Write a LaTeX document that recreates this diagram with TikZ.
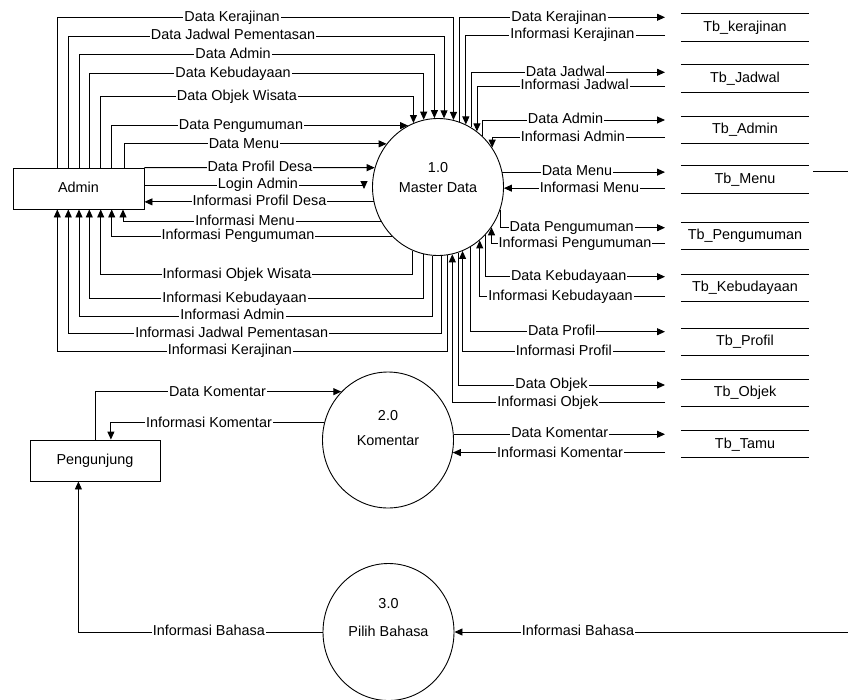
\documentclass[tikz,border=0pt]{standalone}
\usepackage{fontspec}
\setmainfont{Liberation Sans}
\usetikzlibrary{arrows.meta,shapes.geometric}
\begin{document}
\begin{tikzpicture}[x=1pt,y=-1pt,
  font=\fontsize{14.4}{17}\selectfont,
  wire/.style={draw=black,line width=0.9pt},
  flow/.style={wire,-{Triangle[length=8pt,width=7pt]}},
  lbl/.style={fill=white,inner xsep=1pt,inner ysep=0pt,text height=10.4pt,text depth=2.8pt},
  txt/.style={inner sep=0pt,text height=10.4pt,text depth=2.8pt},
  entity/.style={draw=black,line width=0.9pt,minimum width=131pt,minimum height=41pt,inner sep=0pt,text height=10.4pt,text depth=2.8pt},
  process/.style={ellipse,draw=black,line width=0.9pt,minimum width=131pt,minimum height=137pt,inner sep=0pt},
  store/.style={minimum width=128pt,minimum height=27pt,inner sep=0pt,text height=10.4pt,text depth=2.8pt},
]
\useasboundingbox (0,0) rectangle (848,699);

% external entities
\node[entity] (admin) at (78.5,188.5) {Admin};
\node[entity,minimum width=130pt] (peng) at (95,460.5) {Pengunjung};

% processes
\node[process] (p1) at (438,187) {};
\node[txt] (p1n) at (438,168.5) {1.0};
\node[txt] (p1t) at (438,188.9) {Master Data};
\node[process,minimum height=136pt] (p2) at (388,440) {};
\node[txt] (p2n) at (388,416.2) {2.0};
\node[txt] (p2t) at (388,441.2) {Komentar};
\node[process] (p3) at (388.5,632) {};
\node[txt] (p3n) at (388.5,604.5) {3.0};
\node[txt] (p3t) at (388.5,632.9) {Pilih Bahasa};

% data stores
\node[store] (tb1) at (745,27.5) {Tb\_kerajinan};
\node[store] (tb2) at (745,78.3) {Tb\_Jadwal};
\node[store] (tb3) at (745,130) {Tb\_Admin};
\node[store] (tb4) at (745,179.5) {Tb\_Menu};
\node[store] (tb5) at (745,235.7) {Tb\_Pengumuman};
\node[store] (tb6) at (745,287.7) {Tb\_Kebudayaan};
\node[store] (tb7) at (745,341.7) {Tb\_Profil};
\node[store] (tb8) at (745,392.7) {Tb\_Objek};
\node[store] (tb9) at (745,444.2) {Tb\_Tamu};
\foreach \s in {tb1,tb2,tb3,tb4,tb5,tb6,tb7,tb8,tb9}
  \draw[wire] (\s.north west) -- (\s.north east) (\s.south west) -- (\s.south east);

% loose ends of the flows
\coordinate (gx) at (665,0);
\coordinate (lg) at (364,185);
\coordinate (mo1) at (813,171.7);
\coordinate (mo2) at (848,171.7);
\coordinate (bin) at (848,632);

% Admin -> Master Data
\draw[flow] (admin.north -| 57.3,0) |- (p1.77.9 |- 0,17.3) -- (p1.77.9);
\draw[flow] (admin.north -| 68.3,0) |- (p1.85.6 |- 0,36) -- (p1.85.6);
\draw[flow] (admin.north -| 79,0) |- (p1.93.9 |- 0,54.3) -- (p1.93.9);
\draw[flow] (admin.north -| 89.3,0) |- (p1.102.9 |- 0,73.3) -- (p1.102.9);
\draw[flow] (admin.north -| 100.7,0) |- (p1.111.3 |- 0,96.7) -- (p1.111.3);
\draw[flow] (admin.north -| 111.7,0) |- (p1.116);
\draw[flow] (admin.north -| 124,0) |- (p1.140.2);
\draw[flow] (admin.north east) -- (p1.163.2);
\draw[wire] (admin.east |- lg) -- (lg);
\draw[flow] ([yshift=4pt]lg) -- ([yshift=-4pt]lg);

% Master Data -> Admin
\draw[flow] (p1.193.2) -- (admin.east |- p1.193.2);
\draw[flow] (p1.211.6) -| (admin.south -| 123,0);
\draw[flow] (p1.227) -| (admin.south -| 111.7,0);
\draw[flow] (p1.248.7) |- (100.7,274.3) -- (admin.south -| 100.7,0);
\draw[flow] (p1.258.4) |- (89.3,298.3) -- (admin.south -| 89.3,0);
\draw[flow] (p1.265.2) |- (79,316) -- (admin.south -| 79,0);
\draw[flow] (p1.273.1) |- (68.3,333.3) -- (admin.south -| 68.3,0);
\draw[flow] (p1.278.7) |- (57.3,351) -- (admin.south -| 57.3,0);

% Master Data <-> tables
\draw[flow] (p1.72.7) |- (gx |- 0,17.3);
\draw[flow] (gx |- 0,35) -| (p1.66.6);
\draw[flow] (p1.61.8) |- (gx |- 0,72.3);
\draw[flow] (gx |- 0,86) -| (p1.55);
\draw[flow] (p1.49.4) |- (gx |- 0,120);
\draw[flow] (gx |- 0,137.3) -| (p1.36.1);
\draw[flow] (p1.13.5) -- (gx |- p1.13.5);
\draw[flow] (gx |- p1.-1.7) -- (p1.-1.7);
\draw[flow] (p1.340.4) |- (gx |- 0,227.7);
\draw[flow] (gx |- 0,243.3) -| (p1.323.9);
\draw[flow] (p1.315.5) |- (gx |- 0,276.7);
\draw[flow] (gx |- 0,296.7) -| (p1.308.6);
\draw[flow] (p1.298.2) |- (gx |- 0,331.7);
\draw[flow] (gx |- 0,351.7) -| (p1.291.8);
\draw[flow] (p1.287.6) |- (gx |- 0,385);
\draw[flow] (gx |- 0,402.3) -| (p1.282.9);
\draw[wire] (mo1) -- (mo2);

% Komentar
\draw[flow] (peng.north -| 95,0) |- (p2.134.9);
\draw[flow] (p2.165.3) -| (peng.north -| 110.9,0);
\draw[flow] (p2.5.3) -- (gx |- p2.5.3);
\draw[flow] (gx |- p2.-11.7) -- (p2.-11.7);

% Pilih Bahasa
\draw[flow] (p3.west) -| (peng.south -| 78.4,0);
\draw[flow] (bin) -- (p3.east);

% flow labels
\node[lbl] (l1) at (232,17.3) {Data Kerajinan};
\node[lbl] (l2) at (233,36) {Data Jadwal Pementasan};
\node[lbl] (l3) at (233,54.3) {Data Admin};
\node[lbl] (l4) at (233,73.3) {Data Kebudayaan};
\node[lbl] (l5) at (237,96.7) {Data Objek Wisata};
\node[lbl] (l6) at (241,126) {Data Pengumuman};
\node[lbl] (l7) at (244,144.3) {Data Menu};
\node[lbl] (l8) at (260,168) {Data Profil Desa};
\node[lbl] (l9) at (258,185) {Login Admin};
\node[lbl] (l10) at (259.5,202) {Informasi Profil Desa};
\node[lbl] (l11) at (245,221.7) {Informasi Menu};
\node[lbl] (l12) at (238,236) {Informasi Pengumuman};
\node[lbl] (l13) at (237,274.3) {Informasi Objek Wisata};
\node[lbl] (l14) at (234.5,298.3) {Informasi Kebudayaan};
\node[lbl] (l15) at (232.5,316) {Informasi Admin};
\node[lbl] (l16) at (231.7,333.3) {Informasi Jadwal Pementasan};
\node[lbl] (l17) at (230,351) {Informasi Kerajinan};

\node[lbl] (r1) at (559,17.3) {Data Kerajinan};
\node[lbl] (r2) at (572.5,35) {Informasi Kerajinan};
\node[lbl] (r3) at (565.5,72.3) {Data Jadwal};
\node[lbl] (r4) at (574.7,86) {Informasi Jadwal};
\node[lbl] (r5) at (565.5,120) {Data Admin};
\node[lbl] (r6) at (572.8,137.3) {Informasi Admin};
\node[lbl] (r7) at (577,171.7) {Data Menu};
\node[lbl] (r8) at (589.5,189) {Informasi Menu};
\node[lbl] (r9) at (571.7,227.7) {Data Pengumuman};
\node[lbl] (r10) at (575,243.3) {Informasi Pengumuman};
\node[lbl] (r11) at (568.7,276.7) {Data Kebudayaan};
\node[lbl] (r12) at (560.5,296.7) {Informasi Kebudayaan};
\node[lbl] (r13) at (561.7,331.7) {Data Profil};
\node[lbl] (r14) at (563.8,351.7) {Informasi Profil};
\node[lbl] (r15) at (551.5,385) {Data Objek};
\node[lbl] (r16) at (547.8,402.3) {Informasi Objek};
\node[lbl] (r17) at (559.7,434) {Data Komentar};
\node[lbl] (r18) at (560,453.3) {Informasi Komentar};
\node[lbl] (r19) at (578,632) {Informasi Bahasa};

\node[lbl] (k1) at (217.5,392.7) {Data Komentar};
\node[lbl] (k2) at (209,423.3) {Informasi Komentar};
\node[lbl] (k3) at (208.8,632) {Informasi Bahasa};
\end{tikzpicture}
\end{document}
